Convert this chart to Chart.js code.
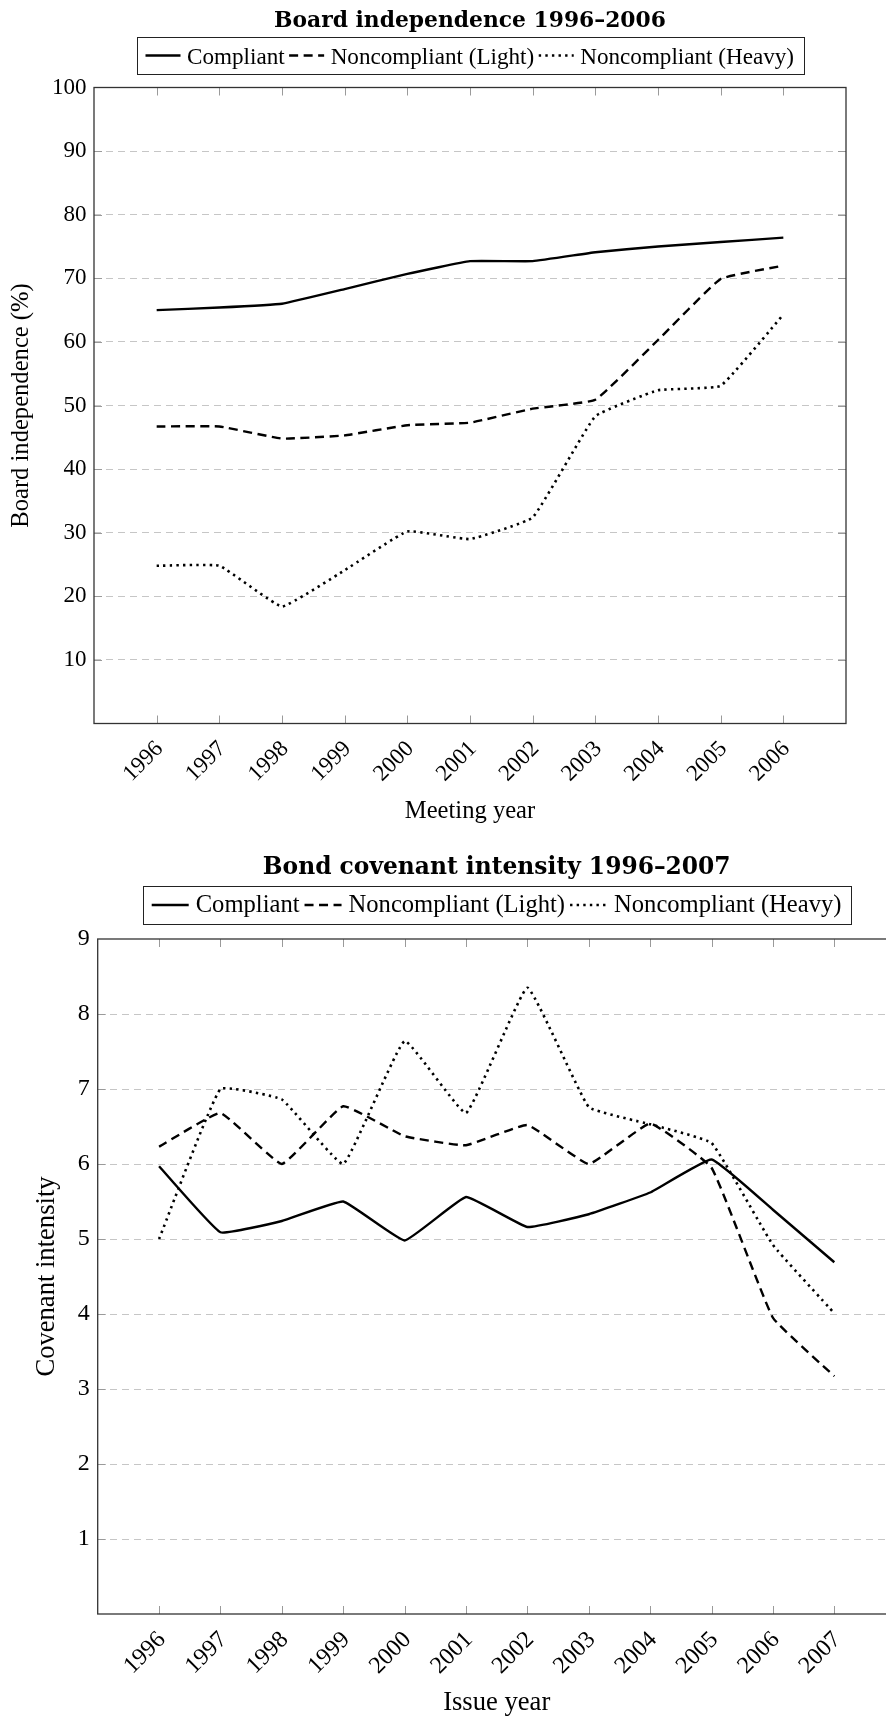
<!DOCTYPE html>
<html><head><meta charset="utf-8">
<script src="https://cdn.jsdelivr.net/npm/chart.js@4.4.1/dist/chart.umd.min.js"></script>
<style>
html,body{margin:0;padding:0;background:#fff;overflow:hidden;width:886px;height:1719px;}
#w1{position:absolute;left:0;top:0;width:886px;height:840px;overflow:hidden;}
#w2{position:absolute;left:0;top:840px;width:886px;height:879px;overflow:hidden;}
canvas{display:block;}
</style></head><body>
<div id="w1"><canvas id="c1" width="886" height="840"></canvas></div>
<div id="w2"><canvas id="c2" width="920" height="879"></canvas></div>
<script>
// ---- Data: Board independence (%) by meeting year ----
const boardYears = [1996, 1997, 1998, 1999, 2000, 2001, 2002, 2003, 2004, 2005, 2006];
const boardCompliant = [65.0, 65.4, 66.0, 68.3, 70.7, 72.7, 72.7, 74.1, 75.0, 75.7, 76.4];
const boardLight     = [46.7, 46.7, 44.8, 45.3, 46.9, 47.3, 49.5, 50.9, 60.3, 69.9, 72.0];
const boardHeavy     = [24.8, 24.8, 18.4, 24.1, 30.2, 29.0, 32.4, 48.3, 52.4, 53.1, 64.3];
const boardYTicks    = [10, 20, 30, 40, 50, 60, 70, 80, 90, 100];

// ---- Data: Bond covenant intensity by issue year ----
const bondYears = [1996, 1997, 1998, 1999, 2000, 2001, 2002, 2003, 2004, 2005, 2006, 2007];
const bondCompliant = [5.97, 5.09, 5.24, 5.50, 4.98, 5.56, 5.16, 5.33, 5.62, 6.06, 5.39, 4.69];
const bondLight     = [6.23, 6.68, 6.00, 6.77, 6.37, 6.25, 6.52, 6.00, 6.54, 5.95, 3.95, 3.17];
const bondHeavy     = [5.00, 7.00, 6.86, 6.00, 7.64, 6.68, 8.35, 6.76, 6.53, 6.28, 4.92, 4.01];
const bondYTicks    = [1, 2, 3, 4, 5, 6, 7, 8, 9];

const seriesNames = ['Compliant', 'Noncompliant (Light)', 'Noncompliant (Heavy)'];

const SERIF = '"Liberation Serif", "Times New Roman", serif';

const deco = {
  id: 'deco',
  afterDraw(chart, args, o) {
    const ctx = chart.ctx, a = chart.chartArea;
    const xs = chart.scales.x, ys = chart.scales.y;
    ctx.save();
    // inner tick marks
    ctx.strokeStyle = '#9a9a9a'; ctx.lineWidth = 1; ctx.setLineDash([]);
    ctx.beginPath();
    o.years.forEach(v => {
      const px = Math.round(xs.getPixelForValue(v)) + 0.5;
      ctx.moveTo(px, a.bottom); ctx.lineTo(px, a.bottom - o.tick);
      ctx.moveTo(px, a.top); ctx.lineTo(px, a.top + o.tick);
    });
    ys.ticks.forEach(t => {
      if (t.value <= ys.min || t.value >= ys.max) return;
      const py = Math.round(ys.getPixelForValue(t.value)) + 0.5;
      ctx.moveTo(a.left, py); ctx.lineTo(a.left + o.tick, py);
      ctx.moveTo(a.right, py); ctx.lineTo(a.right - o.tick, py);
    });
    ctx.stroke();
    // frame
    ctx.strokeStyle = '#333'; ctx.lineWidth = 1.3;
    ctx.strokeRect(a.left, a.top, a.right - a.left, a.bottom - a.top);
    // title
    const cx = (a.left + a.right) / 2;
    ctx.fillStyle = '#000'; ctx.textAlign = 'center'; ctx.textBaseline = 'alphabetic';
    let fs = 20;
    ctx.font = `bold ${fs}px "DejaVu Serif"`;
    fs = fs * o.titleWidth / ctx.measureText(o.title).width;
    ctx.font = `bold ${fs}px "DejaVu Serif"`;
    ctx.fillText(o.title, cx, o.titleBaseline);
    // legend
    const items = chart.data.datasets.map(d => ({text: d.label, dash: d.borderDash || [], width: d.borderWidth}));
    const base = 22;
    ctx.font = `${base}px ${SERIF}`;
    const sumW = items.reduce((s, it) => s + ctx.measureText(it.text).width, 0);
    const fixed = 2 * o.lpad + items.length * (o.sample + o.gap1) + (items.length - 1) * o.gap2;
    const fsL = base * (o.legendWidth - fixed) / sumW;
    ctx.font = `${fsL}px ${SERIF}`;
    const W = o.legendWidth, left = cx - W / 2, top = o.legendTop, H = o.legendHeight;
    ctx.strokeStyle = '#222'; ctx.lineWidth = 1;
    ctx.strokeRect(Math.round(left) + 0.5, Math.round(top) + 0.5, Math.round(W), Math.round(H));
    let px = left + o.lpad;
    items.forEach(it => {
      ctx.strokeStyle = '#000';
      ctx.setLineDash(it.dash); ctx.lineWidth = it.width;
      ctx.beginPath(); ctx.moveTo(px, o.legendLineY); ctx.lineTo(px + o.sample, o.legendLineY); ctx.stroke();
      ctx.setLineDash([]);
      px += o.sample + o.gap1;
      ctx.textAlign = 'left'; ctx.fillStyle = '#000';
      ctx.fillText(it.text, px, o.legendBaseline);
      px += ctx.measureText(it.text).width + o.gap2;
    });
    ctx.restore();
  }
};

function makeDatasets(years, c, l, h) {
  const pts = arr => years.map((yr, i) => ({x: yr, y: arr[i]}));
  const common = {borderColor: '#000', backgroundColor: '#000', pointRadius: 0, borderWidth: 2.4, tension: 0.1, fill: false, borderCapStyle: 'butt', borderJoinStyle: 'round'};
  return [
    Object.assign({}, common, {label: seriesNames[0], data: pts(c), borderDash: []}),
    Object.assign({}, common, {label: seriesNames[1], data: pts(l), borderDash: [9, 5.5]}),
    Object.assign({}, common, {label: seriesNames[2], data: pts(h), borderDash: [2.4, 4.2], borderWidth: 2.6})
  ];
}

function makeChart(id, cfg) {
  const tickFont = {family: SERIF, size: cfg.tickSize};
  const titleFont = {family: SERIF, size: cfg.axisSize};
  const yMax = cfg.yTicks[cfg.yTicks.length - 1];
  return new Chart(document.getElementById(id), {
    type: 'line',
    data: {datasets: makeDatasets(cfg.years, cfg.c, cfg.l, cfg.h)},
    plugins: [deco],
    options: {
      responsive: false, animation: false, devicePixelRatio: 1,
      layout: {padding: cfg.padding},
      plugins: {
        legend: {display: false}, title: {display: false}, tooltip: {enabled: false},
        deco: cfg.deco
      },
      scales: {
        x: {
          type: 'linear', min: cfg.xMin, max: cfg.xMax,
          afterBuildTicks(scale) { scale.ticks = cfg.years.map(v => ({value: v})); },
          afterFit(scale) { scale.height = cfg.xHeight; },
          ticks: {font: tickFont, color: '#000', minRotation: 45, maxRotation: 45, autoSkip: false,
                  padding: cfg.xTickPad, labelOffset: 3, callback: v => String(v)},
          grid: {display: false, drawTicks: false},
          border: {display: false},
          title: {display: true, text: cfg.xTitle, font: titleFont, color: '#000', padding: {top: 0, bottom: cfg.xTitlePad}}
        },
        y: {
          min: 0, max: yMax,
          afterBuildTicks(scale) { scale.ticks = [0].concat(cfg.yTicks).map(v => ({value: v})); },
          afterFit(scale) { scale.width = cfg.yWidth; },
          ticks: {font: tickFont, color: '#000', padding: cfg.yTickPad, crossAlign: 'near',
                  callback: v => (v === 0 ? '' : String(v))},
          grid: {drawTicks: false, lineWidth: 1,
                 color: c => (c.tick && (c.tick.value === 0 || c.tick.value === yMax)) ? 'rgba(0,0,0,0)' : '#c6c6c6'},
          border: {display: false, dash: [7, 5]},
          title: {display: true, text: cfg.yTitle, font: titleFont, color: '#000', padding: {top: cfg.yTitlePad, bottom: 0}}
        }
      }
    }
  });
}

makeChart('c1', {
  years: boardYears, c: boardCompliant, l: boardLight, h: boardHeavy, yTicks: boardYTicks,
  xMin: 1995, xMax: 2007, tickSize: 23, axisSize: 24.6,
  padding: {top: 87.5, left: 0, right: 40, bottom: 0},
  xHeight: 116.5, yWidth: 94, xTickPad: 12, yTickPad: 7.5, xTitlePad: 14, yTitlePad: 7,
  xTitle: 'Meeting year', yTitle: 'Board independence (%)',
  deco: {years: boardYears, tick: 8, title: 'Board independence 1996\u20132006', titleWidth: 392, titleBaseline: 27,
         legendWidth: 667, legendTop: 37, legendHeight: 37, legendLineY: 55.5, legendBaseline: 63.5,
         lpad: 9, sample: 35, gap1: 6.5, gap2: 4.5}
});

makeChart('c2', {
  years: bondYears, c: bondCompliant, l: bondLight, h: bondHeavy, yTicks: bondYTicks,
  xMin: 1995, xMax: 2008, tickSize: 24, axisSize: 26.6,
  padding: {top: 99, left: 0, right: 24.3, bottom: 0},
  xHeight: 105, yWidth: 97.7, xTickPad: 12, yTickPad: 8, xTitlePad: 0, yTitlePad: 31,
  xTitle: 'Issue year', yTitle: 'Covenant intensity',
  deco: {years: bondYears, tick: 8, title: 'Bond covenant intensity 1996\u20132007', titleWidth: 468, titleBaseline: 34.3,
         legendWidth: 708, legendTop: 45.7, legendHeight: 38.3, legendLineY: 65, legendBaseline: 72,
         lpad: 9, sample: 37, gap1: 7, gap2: 5}
});
</script>
</body></html>
